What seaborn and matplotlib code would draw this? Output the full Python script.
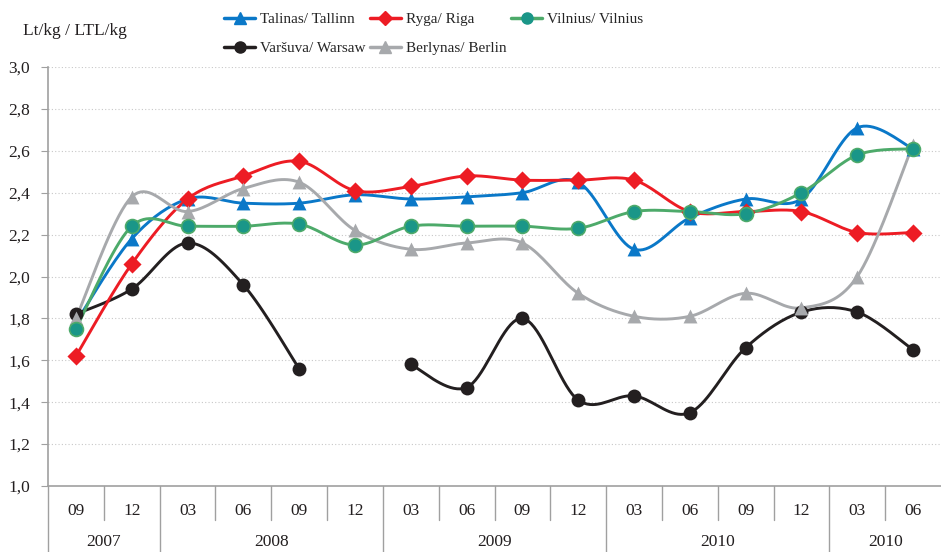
import numpy as np
import pandas as pd
import matplotlib
matplotlib.use("Agg")
import matplotlib.pyplot as plt
import seaborn as sns

# ---- data ----
months = ["09", "12", "03", "06", "09", "12", "03", "06", "09", "12",
          "03", "06", "09", "12", "03", "06"]
year_labels = ["2007", "2008", "2009", "2010", "2010"]
year_spans = [(0, 1), (2, 5), (6, 9), (10, 13), (14, 15)]

tallinn = [1.78, 2.18, 2.37, 2.35, 2.35, 2.39, 2.37, 2.38, 2.40, 2.45,
           2.13, 2.28, 2.37, 2.37, 2.71, 2.61]
riga = [1.62, 2.06, 2.37, 2.48, 2.55, 2.41, 2.43, 2.48, 2.46, 2.46,
        2.46, 2.31, 2.31, 2.31, 2.21, 2.21]
vilnius = [1.75, 2.24, 2.24, 2.24, 2.25, 2.15, 2.24, 2.24, 2.24, 2.23,
           2.31, 2.31, 2.30, 2.40, 2.58, 2.61]
warsaw = [1.82, 1.94, 2.16, 1.96, 1.56, np.nan, 1.58, 1.47, 1.80, 1.41,
          1.43, 1.35, 1.66, 1.83, 1.83, 1.65]
berlin = [1.80, 2.38, 2.31, 2.42, 2.45, 2.22, 2.13, 2.16, 2.16, 1.92,
          1.81, 1.81, 1.92, 1.85, 2.00, 2.63]

series = [
    ("Talinas/ Tallinn", tallinn, "#0A78C8", "#0A78C8", "^"),
    ("Varšuva/ Warsaw", warsaw, "#231F20", "#231F20", "o"),
    ("Ryga/ Riga", riga, "#ED1C24", "#ED1C24", "D"),
    ("Berlynas/ Berlin", berlin, "#A7A9AC", "#A7A9AC", "^"),
    ("Vilnius/ Vilnius", vilnius, "#4DAA6A", "#1A9688", "o"),
]

sns.set_style("white")
plt.rcParams["font.family"] = ["Liberation Serif", "DejaVu Serif"]

fig = plt.figure(figsize=(9.41, 5.52), dpi=100)
ax = fig.add_axes([48 / 941, 1 - 486 / 552, 1 - 48 / 941, (486 - 67) / 552])


def smooth(xs, ys, n=20):
    xs = np.asarray(xs, float)
    ys = np.asarray(ys, float)
    px, py = [], []
    m = len(xs)
    t = np.linspace(0, 1, n)
    for i in range(m - 1):
        p1 = (xs[i], ys[i])
        p2 = (xs[i + 1], ys[i + 1])
        p0 = (xs[i - 1], ys[i - 1]) if i > 0 else p1
        p3 = (xs[i + 2], ys[i + 2]) if i + 2 < m else p2
        c1 = (p1[0] + (p2[0] - p0[0]) / 6, p1[1] + (p2[1] - p0[1]) / 6)
        c2 = (p2[0] - (p3[0] - p1[0]) / 6, p2[1] - (p3[1] - p1[1]) / 6)
        bx = (1 - t) ** 3 * p1[0] + 3 * (1 - t) ** 2 * t * c1[0] + 3 * (1 - t) * t ** 2 * c2[0] + t ** 3 * p2[0]
        by = (1 - t) ** 3 * p1[1] + 3 * (1 - t) ** 2 * t * c1[1] + 3 * (1 - t) * t ** 2 * c2[1] + t ** 3 * p2[1]
        px.extend(bx if i == 0 else bx[1:])
        py.extend(by if i == 0 else by[1:])
    return np.array(px), np.array(py)


x = np.arange(len(months))
handles = []
for name, vals, lc, mc, mk in series:
    v = np.asarray(vals, float)
    ok = ~np.isnan(v)
    idx = np.where(ok)[0]
    segs = np.split(idx, np.where(np.diff(idx) > 1)[0] + 1)
    for seg in segs:
        if len(seg) > 1:
            sx, sy = smooth(x[seg], v[seg])
            ax.plot(sx, sy, color=lc, lw=2.1, solid_capstyle="round", zorder=2)
    df = pd.DataFrame({"x": x[ok], "y": v[ok]})
    two_tone = (mk == "o" and lc != mc)
    sns.scatterplot(data=df, x="x", y="y", ax=ax, marker=mk, s=100 if mk != "D" else 85,
                    color=mc, edgecolor=lc if two_tone else mc,
                    linewidth=1.2 if two_tone else 0, zorder=3, legend=False)
    handles.append(plt.Line2D([], [], color=lc, lw=2.5, marker=mk, markersize=8 if mk != "D" else 7,
                              markerfacecolor=mc, markeredgecolor=mc, label=name))

ax.set_xlim(-0.5, 15.5)
ax.set_ylim(1.0, 3.0)
yt = np.arange(1.0, 3.01, 0.2)
ax.set_yticks(yt)
ax.set_yticklabels([f"{t:.1f}".replace(".", ",") for t in yt], fontsize=12.5, color="#231F20")
ax.yaxis.grid(True, linestyle=(0, (1, 2)), color="#C8C8C8", linewidth=0.8)
ax.set_axisbelow(True)
ax.tick_params(axis="y", length=5, color="#A0A0A0", pad=8, left=True)
ax.set_xticks(x)
ax.set_xticklabels(months, fontsize=12.5, color="#231F20")
ax.tick_params(axis="x", length=0, pad=12)
ax.set_xlabel("")
ax.set_ylabel("")
for s in ["top", "right"]:
    ax.spines[s].set_visible(False)
for s in ["left", "bottom"]:
    ax.spines[s].set_color("#A0A0A0")
    ax.spines[s].set_linewidth(1.2)

tr = ax.get_xaxis_transform()
ax_h = 486 - 67
short_bot = -(520 - 486) / ax_h
long_bot = -(552 - 486) / ax_h
year_bounds = {-0.5, 1.5, 5.5, 9.5, 13.5}
for b in np.arange(-0.5, 15.0, 1.0):
    bot = long_bot if b in year_bounds else short_bot
    ax.plot([b, b], [0, bot], transform=tr, color="#A0A0A0", lw=1.0, clip_on=False)
for lab, (a, b) in zip(year_labels, year_spans):
    ax.text((a + b) / 2, -(542 - 486) / ax_h, lab, transform=tr, ha="center", va="center",
            fontsize=12.5, color="#231F20")

fig.text(23 / 941, 1 - 31 / 552, "Lt/kg / LTL/kg", fontsize=12.5, color="#231F20", va="center")

fig.legend(handles=handles, loc="upper left", bbox_to_anchor=(212 / 941, 1.0), ncol=3,
           frameon=False, fontsize=11, handlelength=2.0, columnspacing=0.3,
           handletextpad=0.35, labelspacing=1.0, borderaxespad=0.4)

fig.savefig("out.png", dpi=100)
